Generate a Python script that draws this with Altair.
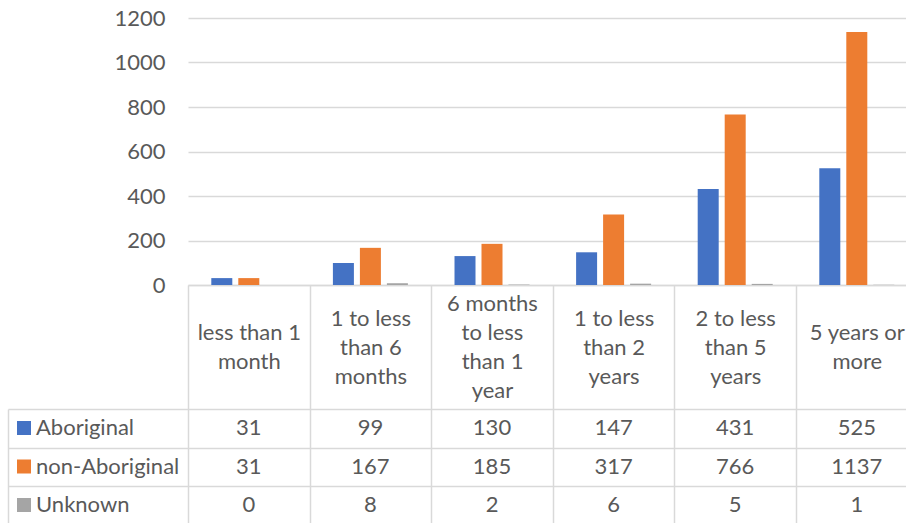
import json
import altair as alt
import pandas as pd

categories = ["less than 1 month", "1 to less than 6 months", "6 months to less than 1 year",
              "1 to less than 2 years", "2 to less than 5 years", "5 years or more"]
header_lines = [["less than 1", "month"], ["1 to less", "than 6", "months"],
                ["6 months", "to less", "than 1", "year"], ["1 to less", "than 2", "years"],
                ["2 to less", "than 5", "years"], ["5 years or", "more"]]
series = ["Aboriginal", "non-Aboriginal", "Unknown"]
aboriginal = [31, 99, 130, 147, 431, 525]
non_aboriginal = [31, 167, 185, 317, 766, 1137]
unknown = [0, 8, 2, 6, 5, 1]
colors = ["#4472C4", "#ED7D31", "#A5A5A5"]
y_ticks = [0, 200, 400, 600, 800, 1000, 1200]

records = []
for s, vals in zip(series, [aboriginal, non_aboriginal, unknown]):
    for c, v in zip(categories, vals):
        records.append({"category": c, "series": s, "value": v})
df = pd.DataFrame(records)

FONT = "Lato"
FS = 22
TXT = "#595959"
LINE = "#d9d9d9"
LW = 1.5
LH = 29          # header line height
TICK = 260       # length of the column lines below the axis
HEADER_MID = 62  # vertical centre of the header cell below the axis

label_expr = " : ".join(
    f"datum.value == {json.dumps(c)} ? {json.dumps(l)}" for c, l in zip(categories, header_lines)
) + " : datum.value"

# shift multi-line labels up so each block is vertically centred in the header cell
pad_conditions = []
for n in sorted({len(l) for l in header_lines}):
    cats_n = [c for c, l in zip(categories, header_lines) if len(l) == n]
    pad_conditions.append({
        "test": f"indexof({json.dumps(cats_n)}, datum.value) >= 0",
        "value": HEADER_MID - TICK - (n - 1) * LH / 2,
    })
label_padding = {"condition": pad_conditions, "value": HEADER_MID - TICK}

x_scale = alt.Scale(domain=categories, range=[0, 729.6], paddingInner=0, paddingOuter=0)
x_axis = alt.Axis(orient="bottom", title=None, domain=True, domainColor=LINE,
                  domainWidth=LW, ticks=True, tickBand="extent", tickSize=TICK, tickColor=LINE,
                  tickWidth=LW, labelExpr=label_expr, labelFont=FONT, labelFontSize=FS,
                  labelColor=TXT, labelLineHeight=LH, labelBaseline="middle", labelAlign="center",
                  labelAngle=0, labelPadding=label_padding, labelLimit=300, labelOverlap=False,
                  labelFlush=False, grid=False)

table_y_scale = alt.Scale(type="band", domain=series, range=[391, 506.5],
                          paddingInner=0, paddingOuter=0)

bars = alt.Chart(df).mark_bar().encode(
    x=alt.X("category:N", scale=x_scale, axis=x_axis),
    xOffset=alt.XOffset("series:N", scale=alt.Scale(domain=series, paddingInner=0.222,
                                                    paddingOuter=0.863)),
    y=alt.Y("value:Q", scale=alt.Scale(domain=[0, 1200], nice=False),
            axis=alt.Axis(orient="left", values=y_ticks, format="d", title=None, domain=False,
                          ticks=False, grid=True, gridColor=LINE, gridWidth=LW, labelFont=FONT,
                          labelFontSize=FS, labelColor=TXT, labelPadding=23)),
    color=alt.Color("series:N", scale=alt.Scale(domain=series, range=colors),
                    legend=alt.Legend(title=None, orient="none", legendX=-175, legendY=399,
                                      direction="vertical", symbolType="square", symbolSize=196,
                                      symbolStrokeWidth=0, symbolOpacity=1, labelFont=FONT,
                                      labelFontSize=FS, labelColor=TXT, labelOffset=1,
                                      rowPadding=16.5, padding=0, labelLimit=250)),
)

cells = alt.Chart(df).mark_text(font=FONT, fontSize=FS, color=TXT, align="center",
                                baseline="middle").encode(
    x=alt.X("category:N", scale=x_scale),
    y=alt.Y("series:N", scale=table_y_scale,
            axis=alt.Axis(orient="left", title=None, labels=False, domain=False, ticks=True,
                          tickBand="extent", tickSize=180, tickColor=LINE, tickWidth=LW,
                          grid=True, gridColor=LINE, gridWidth=LW)),
    text=alt.Text("value:Q"),
)

border = alt.Chart(df).mark_point(opacity=0).encode(
    x=alt.X("category:N", scale=x_scale),
    y=alt.Y("series:N", scale=table_y_scale,
            axis=alt.Axis(orient="left", title=None, labels=False, ticks=False, grid=False,
                          domain=True, domainColor=LINE, domainWidth=LW, offset=180)),
)

chart = alt.layer(bars, cells, border).resolve_scale(y="independent").properties(
    width=718, height=267,
    autosize=alt.AutoSizeParams(type="none"),
    padding={"left": 188, "top": 18, "right": 0, "bottom": 238},
    background="white",
).configure_view(stroke=None)

chart.save("out.html", embed_options={"renderer": "svg", "actions": False})
